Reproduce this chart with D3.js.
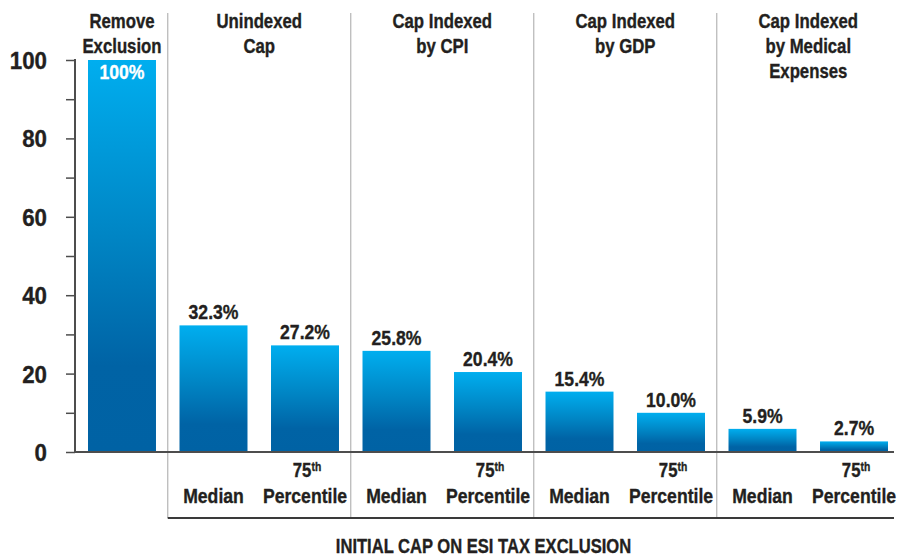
<!DOCTYPE html>
<html>
<head>
<meta charset="utf-8">
<script src="https://cdn.jsdelivr.net/npm/d3@7"></script>
<style>
  html, body { margin: 0; padding: 0; background: #fff; }
  svg { display: block; }
  text { font-family: "Liberation Sans", Arial, sans-serif; font-weight: bold; fill: #231f20; stroke: #231f20; stroke-width: 0.35px; }
</style>
</head>
<body>
<svg id="chart" width="900" height="558"></svg>
<script>
// ---- data ----
const groupNames = [
  ["Remove", "Exclusion"],
  ["Unindexed", "Cap"],
  ["Cap Indexed", "by CPI"],
  ["Cap Indexed", "by GDP"],
  ["Cap Indexed", "by Medical", "Expenses"]
];
const groupSizes = [1, 2, 2, 2, 2];
const barCategories = ["Remove Exclusion", "Unindexed Median", "Unindexed 75th", "CPI Median", "CPI 75th", "GDP Median", "GDP 75th", "Medical Median", "Medical 75th"];
const barKinds = ["", "Median", "75th", "Median", "75th", "Median", "75th", "Median", "75th"];
const values = [100, 32.3, 27.2, 25.8, 20.4, 15.4, 10.0, 5.9, 2.7];
const valueLabels = ["100%", "32.3%", "27.2%", "25.8%", "20.4%", "15.4%", "10.0%", "5.9%", "2.7%"];
const yTickLabels = [0, 20, 40, 60, 80, 100];
const yMinorTicks = [0, 10, 20, 30, 40, 50, 60, 70, 80, 90, 100];
const axisTitle = "INITIAL CAP ON ESI TAX EXCLUSION";

// ---- layout ----
const svg = d3.select("#chart");
const axisX = 75, baseY = 452, topY = 60, plotRight = 894;
const SX = 0.86; // condensed look
const y = d3.scaleLinear().domain([0, 100]).range([baseY, topY]);
const x = d3.scaleBand().domain(barCategories).range([88, 888]).paddingInner(0.257).paddingOuter(0);

function ctext(px, py, size, anchor, sx) {
  return svg.append("text")
    .attr("transform", `translate(${px},${py}) scale(${sx || SX},1)`)
    .attr("text-anchor", anchor || "middle")
    .style("font-size", size + "px");
}

// gradient
const defs = svg.append("defs");
const grad = defs.append("linearGradient").attr("id", "barGrad")
  .attr("x1", 0).attr("y1", 0).attr("x2", 0).attr("y2", 1);
grad.append("stop").attr("offset", "0%").attr("stop-color", "#00aeef");
grad.append("stop").attr("offset", "45%").attr("stop-color", "#0085c4");
grad.append("stop").attr("offset", "78%").attr("stop-color", "#0063a5");
grad.append("stop").attr("offset", "100%").attr("stop-color", "#0062a4");

// group boundaries
let starts = [], acc = 0;
groupSizes.forEach(s => { starts.push(acc); acc += s; });
const step = x.step(), bw = x.bandwidth();
const sepXs = starts.slice(1).map(i => x(barCategories[i]) - (step - bw) / 2);

// separators
svg.selectAll(".sep").data(sepXs).enter().append("line")
  .attr("x1", d => d).attr("x2", d => d)
  .attr("y1", 13).attr("y2", 518)
  .attr("stroke", "#b5b5b5").attr("stroke-width", 1.2);

// bottom bracket line
svg.append("line").attr("x1", sepXs[0]).attr("x2", plotRight)
  .attr("y1", 518).attr("y2", 518).attr("stroke", "#3a3a3a").attr("stroke-width", 2);

// bars
svg.selectAll(".bar").data(values).enter().append("rect")
  .attr("x", (d, i) => x(barCategories[i]))
  .attr("y", d => y(d))
  .attr("width", bw)
  .attr("height", d => y(0) - y(d))
  .attr("fill", "url(#barGrad)");

// value labels
values.forEach((d, i) => {
  const cx = x(barCategories[i]) + bw / 2;
  const t = ctext(cx, i === 0 ? y(d) + 19 : y(d) - 6, 20, "middle", 0.88).text(valueLabels[i]);
  if (i === 0) t.style("fill", "#ffffff").style("stroke", "#ffffff");
});

// y axis
const yAxis = d3.axisLeft(y).tickValues(yMinorTicks).tickSize(9).tickFormat("");
const gy = svg.append("g").attr("transform", `translate(${axisX},0)`).call(yAxis);
gy.select(".domain").remove();
gy.selectAll(".tick line").attr("stroke", "#4d4d4d").attr("stroke-width", 1.5);
svg.append("line").attr("x1", axisX).attr("x2", axisX).attr("y1", topY - 1).attr("y2", baseY + 1)
  .attr("stroke", "#4d4d4d").attr("stroke-width", 2);
yTickLabels.forEach(d => {
  ctext(47, y(d) + 9, 24, "end", 0.93).text(d);
});

// baseline
svg.append("line").attr("x1", axisX - 1).attr("x2", plotRight).attr("y1", baseY).attr("y2", baseY)
  .attr("stroke", "#4d4d4d").attr("stroke-width", 2);

// group headers
groupNames.forEach((lines, gi) => {
  const first = barCategories[starts[gi]];
  const last = barCategories[starts[gi] + groupSizes[gi] - 1];
  const cx = (x(first) + x(last) + bw) / 2;
  const t = ctext(cx, 28, 19.5, "middle");
  lines.forEach((ln, li) => {
    t.append("tspan").attr("x", 0).attr("y", li * 24.8).text(ln);
  });
});

// category labels
barKinds.forEach((k, i) => {
  if (!k) return;
  const cx = x(barCategories[i]) + bw / 2;
  if (k === "Median") {
    ctext(cx, 503, 20.5).text("Median");
  } else {
    const t = ctext(cx + 2, 477, 19.5);
    t.append("tspan").text("75");
    t.append("tspan").attr("dy", -6).style("font-size", "12px").text("th");
    ctext(cx, 503, 20.5).text("Percentile");
  }
});

// axis title
ctext((axisX + plotRight) / 2 - 1, 553, 19.5, "middle", 0.85).text(axisTitle);
</script>
</body>
</html>
